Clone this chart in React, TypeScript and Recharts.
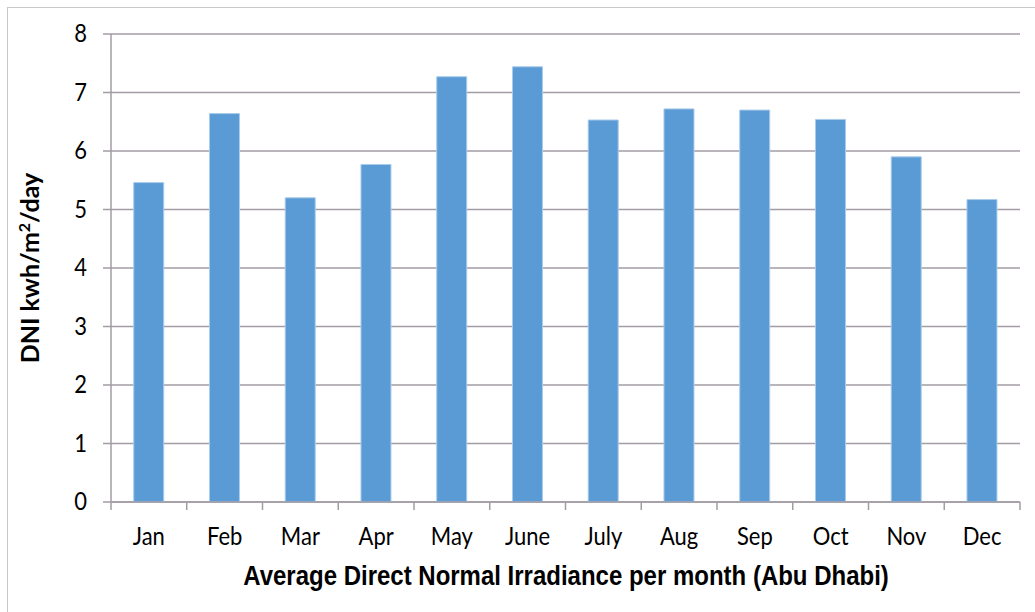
import React from 'react';
import { BarChart, Bar, XAxis, YAxis, CartesianGrid } from 'recharts';

// Monthly average DNI, Abu Dhabi (kWh/m²/day)
const months = ['Jan', 'Feb', 'Mar', 'Apr', 'May', 'June', 'July', 'Aug', 'Sep', 'Oct', 'Nov', 'Dec'];
const dniValues = [5.46, 6.64, 5.2, 5.77, 7.27, 7.44, 6.53, 6.72, 6.7, 6.54, 5.9, 5.17];
const yTicks = [0, 1, 2, 3, 4, 5, 6, 7, 8];

const data = months.map((m, i) => ({ month: m, dni: dniValues[i] }));

const GRID = '#A29DA3';
const TICK_FONT = 'Lato, "Open Sans", sans-serif';

// Excel-style x ticks: marks sit between categories, label in the middle
const MonthTick = (props: any) => {
    const { x, y, payload, index, visibleTicksCount } = props;
    const half = 909 / 12 / 2;
    return (
        <g>
            <line x1={x - half} y1={y - 8} x2={x - half} y2={y} stroke={GRID} strokeWidth={1.5} />
            {index === visibleTicksCount - 1 && (
                <line x1={x + half} y1={y - 8} x2={x + half} y2={y} stroke={GRID} strokeWidth={1.5} />
            )}
            <text
                transform={`translate(${x}, ${y + 35}) scale(1, 1.15)`}
                textAnchor="middle"
                fill="#000"
                fontSize={22}
                fontFamily={TICK_FONT}
            >
                {payload.value}
            </text>
        </g>
    );
};

const ValueTick = (props: any) => {
    const { x, y, payload } = props;
    return (
        <text
            transform={`translate(${x - 14}, ${y + 8}) scale(1, 1.15)`}
            textAnchor="end"
            fill="#000"
            fontSize={22}
            fontFamily={TICK_FONT}
        >
            {payload.value}
        </text>
    );
};

export default function App() {
    return (
        <div style={{ position: 'absolute', left: 0, top: 0, width: 1035, height: 612, background: '#fff' }}>
            <div
                style={{
                    position: 'absolute',
                    left: 7,
                    top: 7,
                    width: 1040,
                    height: 620,
                    border: '1.5px solid #C8C8C8',
                    boxSizing: 'border-box',
                }}
            />
            <BarChart
                width={1035}
                height={612}
                data={data}
                margin={{ top: 34, right: 15, left: 0, bottom: 0 }}
                barCategoryGap="30%"
                style={{ position: 'absolute', left: 0, top: 0 }}
            >
                <CartesianGrid vertical={false} stroke={GRID} strokeWidth={1.5} />
                <XAxis
                    dataKey="month"
                    axisLine={{ stroke: GRID, strokeWidth: 1.5 }}
                    tickLine={false}
                    tick={<MonthTick />}
                    interval={0}
                    height={110}
                />
                <YAxis
                    domain={[0, 8]}
                    ticks={yTicks}
                    width={111}
                    axisLine={{ stroke: GRID, strokeWidth: 1.5 }}
                    tickLine={{ stroke: GRID, strokeWidth: 1.5 }}
                    tickSize={8}
                    tick={<ValueTick />}
                />
                <Bar dataKey="dni" fill="#5B9BD5" stroke="#A9CCEC" strokeWidth={1} isAnimationActive={false} />
                <text
                    transform="translate(566, 585) scale(1, 1.12)"
                    textAnchor="middle"
                    fontSize={24}
                    fontWeight="bold"
                    fontFamily="Liberation Sans, Arial, sans-serif"
                    fill="#000"
                >
                    Average Direct Normal Irradiance per month (Abu Dhabi)
                </text>
                <text
                    transform="translate(39, 268) rotate(-90)"
                    textAnchor="middle"
                    fontSize={25}
                    fontWeight="bold"
                    fontFamily={TICK_FONT}
                    fill="#000"
                >
                    DNI kwh/m<tspan dy={-9} fontSize={16}>2</tspan>
                    <tspan dy={9}>/day</tspan>
                </text>
            </BarChart>
        </div>
    );
}
